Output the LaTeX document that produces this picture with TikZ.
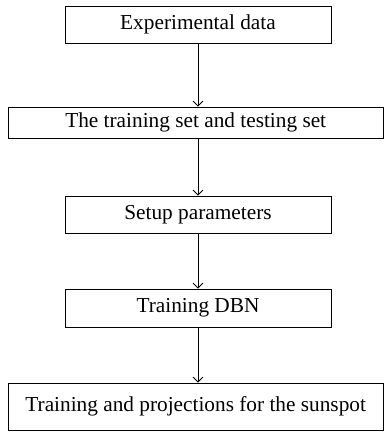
\documentclass[tikz,border=0pt]{standalone}
\usepackage{fontspec}
\setmainfont{Liberation Serif}
\usetikzlibrary{arrows.meta,positioning}

\begin{document}
\begin{tikzpicture}[x=1pt,y=-1pt,>={Straight Barb[length=5pt,width=10pt]},
  stepbox/.style={draw=black,line width=0.8pt,minimum width=266pt,inner sep=0pt,font=\fontsize{21.3}{23}\selectfont},
  widebox/.style={stepbox,minimum width=375pt},
  flowline/.style={->,line width=0.8pt}]
\useasboundingbox (0,0) rectangle (384,440);
\node[stepbox,minimum height=37pt] (s0) at (198,24.5) {Experimental data};
\node[widebox,minimum height=31pt] (s1) at (195.7,122.5) {The training set and testing set};
\node[stepbox,minimum height=37pt] (s2) at (198,214.5) {Setup parameters};
\node[stepbox,minimum height=38pt] (s3) at (198,308) {Training DBN};
\node[widebox,minimum height=47pt] (s4) at (195.7,406.5) {Training and projections for the sunspot};
\draw[flowline] (s0.south)--(s0.south |- s1.north);
\draw[flowline] (s0.south |- s1.south)--(s2.north);
\draw[flowline] (s2.south)--(s3.north);
\draw[flowline] (s3.south)--(s3.south |- s4.north);
\end{tikzpicture}
\end{document}
